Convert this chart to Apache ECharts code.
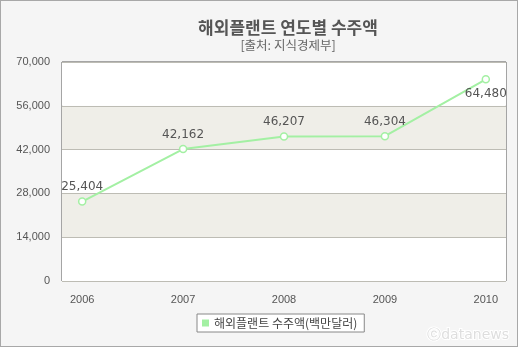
<!DOCTYPE html>
<html>
<head>
<meta charset="utf-8">
<script src="https://cdn.jsdelivr.net/npm/echarts@6/dist/echarts.min.js"></script>
<style>
  html, body { margin: 0; padding: 0; background: #ffffff; }
  #chart { width: 516px; height: 345px; border: 1px solid #a8a8a8; background: #f5f5f5; }
</style>
</head>
<body>
<div id="chart"></div>
<script>
// Overseas plant orders by year (million USD)
const years = [2006, 2007, 2008, 2009, 2010];
const orders = [25404, 42162, 46207, 46304, 64480];
const yTicks = [0, 14000, 28000, 42000, 56000, 70000];
const seriesName = '해외플랜트 수주액(백만달러)';
const titleText = '해외플랜트 연도별 수주액';
const sourceText = '[출처: 지식경제부]';

const fmt = v => v.toLocaleString('en-US');
const lineColor = '#a3f0a3';

const chart = echarts.init(document.getElementById('chart'));
chart.setOption({
  backgroundColor: '#f5f5f5',
  animation: false,
  title: {
    text: titleText,
    subtext: sourceText,
    left: 282,
    textAlign: 'center',
    top: 13,
    itemGap: 3,
    textStyle: { fontFamily: 'Noto Sans CJK KR', fontSize: 17, fontWeight: 'bold', color: '#555555' },
    subtextStyle: { fontFamily: 'Noto Sans CJK KR', fontSize: 12.5, color: '#666666' }
  },
  legend: {
    data: [seriesName],
    left: 196,
    top: 313,
    backgroundColor: '#ffffff',
    borderColor: '#888888',
    borderWidth: 1,
    borderRadius: 0,
    padding: [3, 7, 3, 5],
    icon: 'rect',
    itemWidth: 7,
    itemHeight: 7,
    itemGap: 4,
    itemStyle: { color: lineColor, borderWidth: 0 },
    textStyle: { fontFamily: 'Noto Sans CJK KR', fontSize: 12, color: '#444444' }
  },
  grid: {
    left: 61, top: 61, width: 444, height: 219,
    show: true, borderColor: '#555555', borderWidth: 1, backgroundColor: '#ffffff'
  },
  xAxis: {
    type: 'value',
    min: years[0] - 0.2,
    max: years[years.length - 1] + 0.2,
    axisLine: { show: false },
    axisTick: { show: false },
    splitLine: { show: false },
    axisLabel: {
      margin: 13,
      fontFamily: 'Liberation Sans', fontSize: 11, color: '#555555',
      showMinLabel: false, showMaxLabel: false,
      formatter: v => (years.includes(Math.round(v * 1000) / 1000) ? String(Math.round(v)) : '')
    }
  },
  yAxis: {
    type: 'value',
    min: yTicks[0],
    max: yTicks[yTicks.length - 1],
    interval: yTicks[1] - yTicks[0],
    axisLine: { show: false },
    axisTick: { show: false },
    axisLabel: {
      margin: 12,
      fontFamily: 'Liberation Sans', fontSize: 11, color: '#555555',
      formatter: v => fmt(v)
    },
    splitLine: { show: true, lineStyle: { color: '#bdbcb4', width: 1 } },
    splitArea: { show: true, areaStyle: { color: ['#ffffff', '#efeee8'] } }
  },
  series: [{
    name: seriesName,
    type: 'line',
    symbol: 'circle',
    symbolSize: 7,
    lineStyle: { color: lineColor, width: 2 },
    itemStyle: { color: '#ffffff', borderColor: lineColor, borderWidth: 1.5 },
    label: {
      show: true,
      position: 'top',
      distance: 4,
      fontFamily: 'DejaVu Sans',
      fontSize: 12,
      color: '#555555',
      formatter: p => fmt(p.value[1])
    },
    labelLayout: { hideOverlap: false },
    data: years.map((y, i) => i === years.length - 1
      ? { value: [y, orders[i]], label: { position: 'bottom' } }
      : [y, orders[i]])
  }],
  graphic: [{
    type: 'text',
    right: 7,
    bottom: 3,
    style: {
      text: 'ⓒdatanews',
      font: '14px "DejaVu Sans"',
      fill: '#dedede',
      stroke: '#ffffff',
      lineWidth: 2
    }
  }]
});
</script>
</body>
</html>
